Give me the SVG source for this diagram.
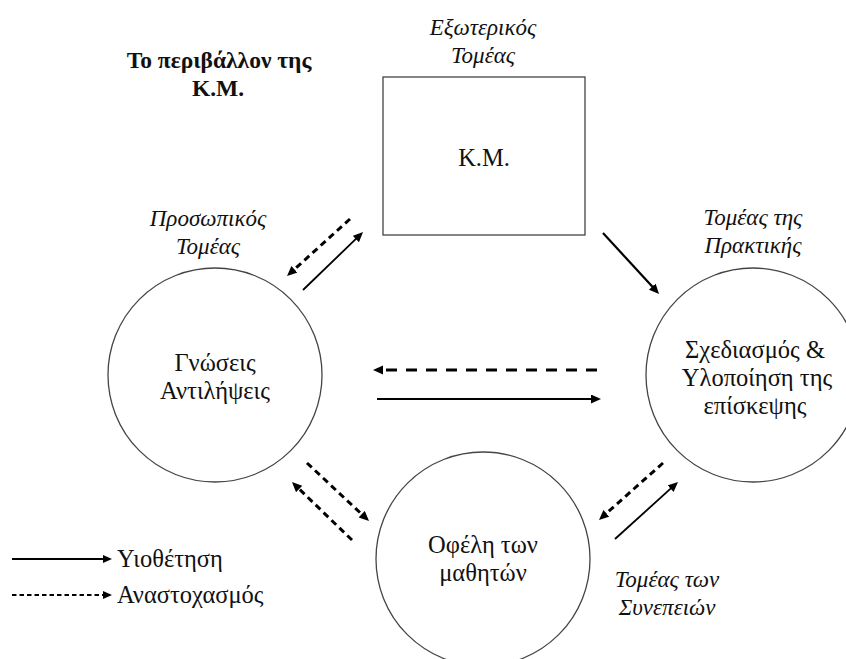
<svg xmlns="http://www.w3.org/2000/svg" width="846" height="659" viewBox="0 0 846 659">
<defs>
<style>
text{font-family:"Liberation Serif","Times New Roman","DejaVu Serif",serif;fill:#111;font-size:24.5px;text-anchor:middle}
.it{font-style:italic;font-size:23px}
.title{font-weight:bold;font-size:23.5px}
.lg{text-anchor:start}
.shape{fill:none;stroke:#444;stroke-width:1.3}
.sol{fill:none;stroke:#000;stroke-width:2.2;marker-end:url(#ah)}
.thin{stroke-width:1.8}
.dh{fill:none;stroke:#000;stroke-width:3;stroke-dasharray:11 9;marker-end:url(#ah)}
.dd{fill:none;stroke:#000;stroke-width:3;stroke-dasharray:6.5 4.5;marker-end:url(#ah)}
.lsol{fill:none;stroke:#000;stroke-width:2;marker-end:url(#ahs)}
.ldash{fill:none;stroke:#000;stroke-width:2;stroke-dasharray:4.5 3;marker-end:url(#ahs)}
</style>
<marker id="ah" markerUnits="userSpaceOnUse" markerWidth="11" markerHeight="10" refX="3" refY="4.5" orient="auto">
<path d="M0,0 L10,4.5 L0,9 z" fill="#000"/>
</marker>
<marker id="ahs" markerUnits="userSpaceOnUse" markerWidth="10" markerHeight="9" refX="3" refY="4" orient="auto">
<path d="M0,0 L9,4 L0,8 z" fill="#000"/>
</marker>
</defs>
<rect width="846" height="659" fill="#fff"/>

<g id="title">
<text class="title" x="219" y="68">Το περιβάλλον της</text>
<text class="title" x="218" y="96">Κ.Μ.</text>
</g>

<g id="km">
<rect class="shape" x="383" y="77" width="202" height="158"/>
<text x="484" y="166">Κ.Μ.</text>
<text class="it" x="483" y="35">Εξωτερικός</text>
<text class="it" x="483" y="63">Τομέας</text>
</g>

<g id="gnoseis">
<circle class="shape" cx="215" cy="375" r="107"/>
<text x="215" y="371">Γνώσεις</text>
<text x="215" y="399">Αντιλήψεις</text>
<text class="it" x="208" y="226">Προσωπικός</text>
<text class="it" x="208" y="254">Τομέας</text>
</g>

<g id="sxediasmos">
<circle class="shape" cx="753" cy="375" r="107"/>
<text x="755" y="358">Σχεδιασμός &amp;</text>
<text x="757" y="386">Υλοποίηση της</text>
<text x="755" y="414">επίσκεψης</text>
<text class="it" x="753" y="225">Τομέας της</text>
<text class="it" x="753" y="253">Πρακτικής</text>
</g>

<g id="ofeli">
<circle class="shape" cx="483" cy="559" r="107"/>
<text x="483" y="553">Οφέλη των</text>
<text x="483" y="581">μαθητών</text>
<text class="it" x="667" y="587">Τομέας των</text>
<text class="it" x="667" y="615">Συνεπειών</text>
</g>

<g id="connectors">
<line class="dd" x1="350" y1="219" x2="292.2" y2="271.3"/>
<line class="sol thin" x1="303" y1="290" x2="358" y2="236.9"/>
<line class="sol" x1="603" y1="233" x2="654.3" y2="288.8"/>
<line class="dh" x1="597" y1="370" x2="380" y2="370"/>
<line class="sol" x1="377" y1="399" x2="594" y2="399"/>
<line class="dd" x1="307" y1="463" x2="363.9" y2="516.2"/>
<line class="dd" x1="352" y1="540" x2="297" y2="486.9"/>
<line class="dd" x1="663" y1="463" x2="604.2" y2="515.3"/>
<line class="sol thin" x1="615" y1="539" x2="672.8" y2="486.7"/>
</g>

<g id="legend">
<line class="lsol" x1="12" y1="559" x2="106" y2="559"/>
<text class="lg" x="117" y="567">Υιοθέτηση</text>
<line class="ldash" x1="12" y1="595" x2="106" y2="595"/>
<text class="lg" x="117" y="603">Αναστοχασμός</text>
</g>
</svg>
